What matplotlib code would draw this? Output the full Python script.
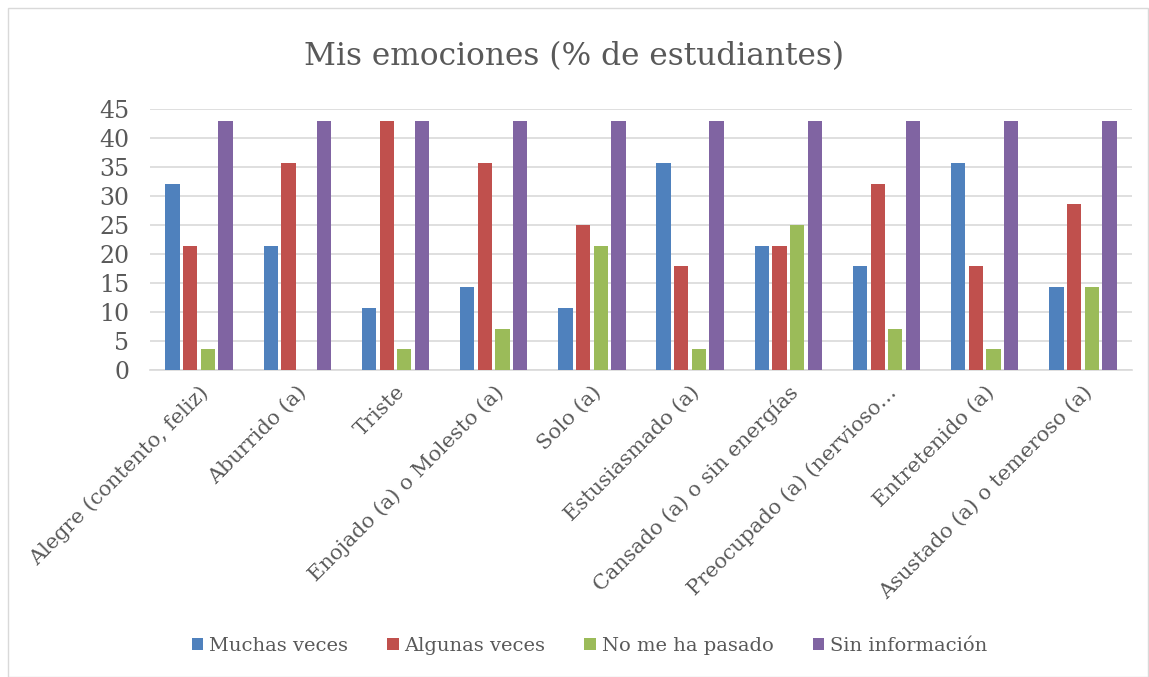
import matplotlib
matplotlib.use("Agg")
import matplotlib.pyplot as plt
from matplotlib.patches import Rectangle
import numpy as np

categories = ["Alegre (contento, feliz)", "Aburrido (a)", "Triste", "Enojado (a) o Molesto (a)",
              "Solo (a)", "Estusiasmado (a)", "Cansado (a) o sin energías",
              "Preocupado (a) (nervioso…", "Entretenido (a)", "Asustado (a) o temeroso (a)"]
muchas = [32.14, 21.43, 10.71, 14.29, 10.71, 35.71, 21.43, 17.86, 35.71, 14.29]
algunas = [21.43, 35.71, 42.86, 35.71, 25.0, 17.86, 21.43, 32.14, 17.86, 28.57]
no_pasado = [3.57, 0, 3.57, 7.14, 21.43, 3.57, 25.0, 7.14, 3.57, 14.29]
sin_info = [42.86] * 10
series_names = ["Muchas veces", "Algunas veces", "No me ha pasado", "Sin información"]
colors = ["#4F81BD", "#C0504D", "#9BBB59", "#8064A2"]

plt.rcParams['font.family'] = ['DejaVu Serif']
txt = "#595959"

fig = plt.figure(figsize=(11.49, 6.77), dpi=100)
fig.patches.append(Rectangle((8/1149, 0), 1140/1149, 669/677, transform=fig.transFigure,
                             fill=False, edgecolor="#d9d9d9", linewidth=1))
ax = fig.add_axes([150/1149, 1-370/677, (1132-150)/1149, (370-109)/677])

x = np.arange(len(categories))
w = 0.145
step = 0.18
for i, (vals, name, c) in enumerate(zip([muchas, algunas, no_pasado, sin_info], series_names, colors)):
    ax.bar(x + (i - 1.5) * step, vals, width=w, color=c, label=name, zorder=3)

ax.set_xlim(-0.5, len(categories) - 0.5)
ax.set_ylim(0, 45)
ax.set_yticks(range(0, 46, 5))
ax.yaxis.grid(True, color="#d9d9d9", linewidth=1.2, zorder=0)
for s in ["top", "right", "left"]:
    ax.spines[s].set_visible(False)
ax.spines["bottom"].set_color("#d9d9d9")
ax.spines["bottom"].set_linewidth(1.2)
ax.tick_params(axis="both", length=0, labelcolor=txt)
ax.tick_params(axis="y", pad=15, labelsize=17)
ax.set_xticks(x)
ax.set_xticklabels(categories, rotation=45, ha="right", rotation_mode="anchor", fontsize=15)
ax.tick_params(axis="x", pad=9)

fig.text(0.5, 1-57/677, "Mis emociones (% de estudiantes)", ha="center", va="center",
         fontsize=22.5, color=txt)
fig.legend(loc="center", bbox_to_anchor=(0.513, 1-646/677), ncol=4, frameon=False,
           fontsize=14, labelcolor=txt, handlelength=0.6, handleheight=0.6,
           columnspacing=2.0, handletextpad=0.3)

fig.savefig("out.png", dpi=100)
